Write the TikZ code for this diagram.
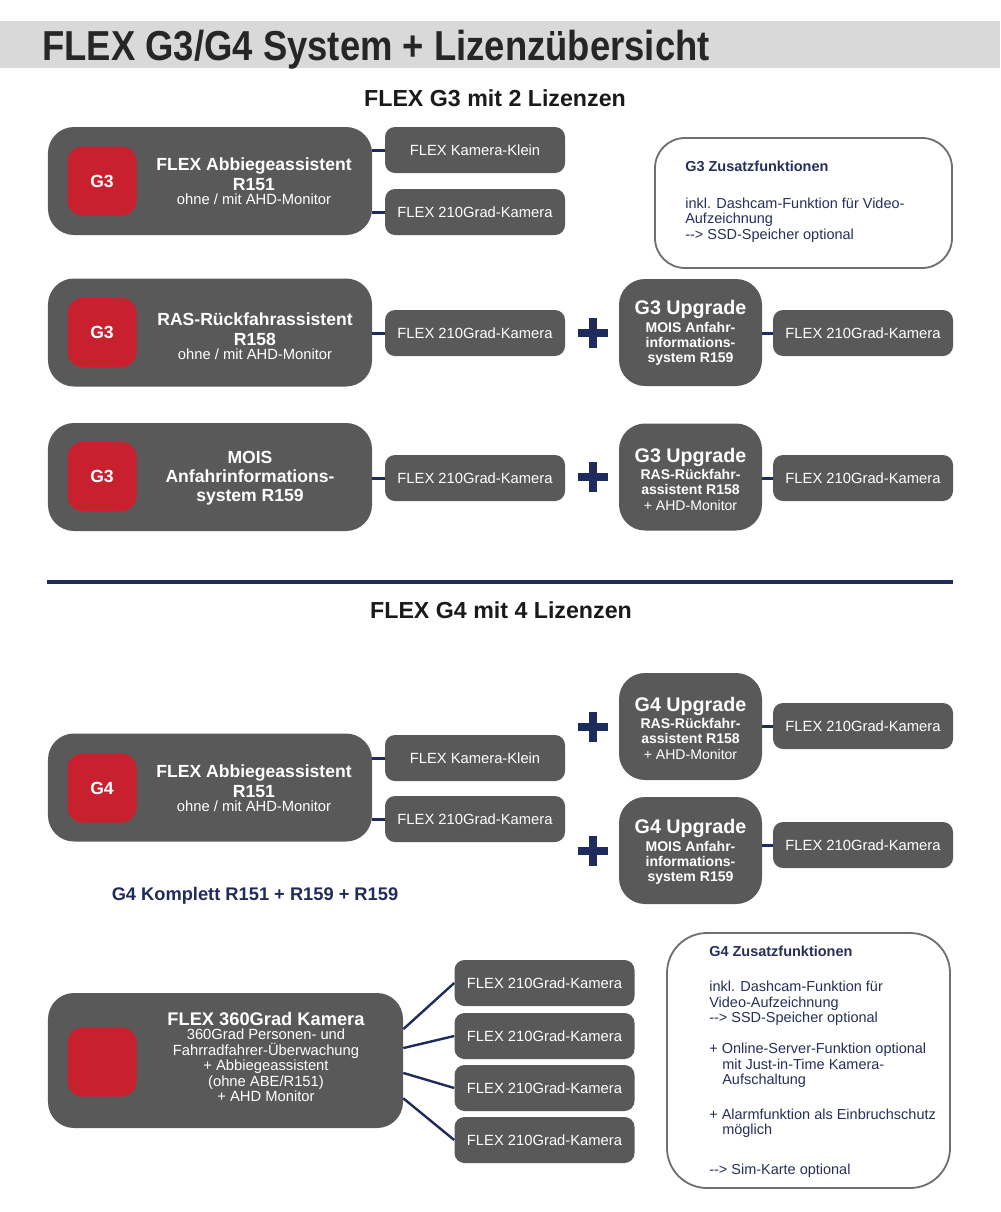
\documentclass[tikz,border=0pt]{standalone}
\usepackage{fontspec}
\setmainfont{Liberation Sans}
\usepackage{graphicx}
\usetikzlibrary{calc}

\begin{document}
\begin{tikzpicture}[x=0.25mm, y=-0.25mm,
    mainbox/.style={fill=boxGrey, rounded corners=6.5mm, minimum width=81mm, minimum height=27mm, inner sep=0pt},
    redbox/.style={fill=redFill, rounded corners=3.75mm, minimum size=17.25mm, inner sep=0pt, text=white, font=\fontsize{12.5}{13}\selectfont\bfseries},
    cambox/.style={fill=boxGrey, rounded corners=2.5mm, minimum width=45mm, minimum height=11.5mm, inner sep=0pt, text=white, font=\fontsize{10.5}{11}\selectfont},
    upgbox/.style={fill=boxGrey, rounded corners=6.5mm, minimum width=35.75mm, minimum height=26.75mm, inner sep=0pt},
    mainlabel/.style={text=white, align=center, inner sep=0pt, font=\fontsize{12.5}{14.2}\selectfont\bfseries},
    upglabel/.style={text=white, align=center, inner sep=0pt, font=\fontsize{10}{10.8}\selectfont\bfseries},
    infobox/.style={draw=frameGrey, line width=1.3pt, fill=white, inner sep=0pt},
    infotext/.style={text=navyText, align=left, inner sep=0pt, anchor=north west, font=\fontsize{10.3}{11}\selectfont},
    heading/.style={text=headInk, inner sep=0pt, font=\fontsize{16.5}{17}\selectfont\bfseries},
    link/.style={draw=navyLine, line width=0.75mm},
    plusSign/.style={draw=navyLine, line width=2mm}
]
    \definecolor{boxGrey}{HTML}{595959}
    \definecolor{redFill}{HTML}{C8202E}
    \definecolor{navyLine}{HTML}{1F2B5B}
    \definecolor{navyText}{HTML}{25305A}
    \definecolor{bandGrey}{HTML}{D9D9D9}
    \definecolor{frameGrey}{HTML}{6F6F6F}
    \definecolor{headInk}{HTML}{1A1A1A}
    \definecolor{titleInk}{HTML}{262626}

    \useasboundingbox (0,0) rectangle (1000,1212);

    % Title band
    \fill[bandGrey] (0,21) rectangle (1000,68);
    \node[anchor=base west, inner sep=0pt, text=titleInk] (title) at (42,60)
        {\scalebox{0.87}[1]{\fontsize{29.8}{30}\selectfont\bfseries FLEX G3/G4 System + Lizenzübersicht}};

    % ---------------- G3 ----------------
    \node[heading] (headG3) at (495,98) {FLEX G3 mit 2 Lizenzen};

    % Row 1: Abbiegeassistent
    \node[mainbox] (mainA) at (210,181) {};
    \node[redbox] (redA) at (102,181) {G3};
    \node[mainlabel] (labA) at (254,181) {FLEX Abbiegeassistent\\R151\\[-4pt]{\mdseries\fontsize{10.5}{11}\selectfont ohne / mit AHD-Monitor}};
    \node[cambox] (kleinA) at (475,150) {FLEX Kamera-Klein};
    \node[cambox] (camA) at (475,212) {FLEX 210Grad-Kamera};
    \draw[link] (mainA.east |- kleinA.west) -- (kleinA.west);
    \draw[link] (mainA.east |- camA.west) -- (camA.west);

    % G3 extras
    \node[infobox, rounded corners=7.5mm, minimum width=74.25mm, minimum height=32.5mm] (infoG3) at (803.5,203) {};
    \node[infotext] (infoG3txt) at (685,161)
        {{\bfseries G3 Zusatzfunktionen}\\[15pt]
         inkl. Dashcam-Funktion für Video-\\
         Aufzeichnung\\
         -{}-> SSD-Speicher optional};

    % Row 2: Rueckfahrassistent + MOIS upgrade
    \node[mainbox] (mainB) at (210,332.5) {};
    \node[redbox] (redB) at (102,332.5) {G3};
    \node[mainlabel] (labB) at (255,336) {RAS-Rückfahrassistent\\R158\\[-4pt]{\mdseries\fontsize{10.5}{11}\selectfont ohne / mit AHD-Monitor}};
    \node[cambox] (camB) at (475,333) {FLEX 210Grad-Kamera};
    \draw[link] (mainB.east |- camB.west) -- (camB.west);
    \node[upgbox] (upgB) at (690.5,332.5) {};
    \node[upglabel] (upgBtxt) at (690.5,333) {{\fontsize{14}{14}\selectfont G3 Upgrade}\\[1.8pt]MOIS Anfahr-\\informations-\\system R159};
    \node[cambox] (camBx) at (863,333) {FLEX 210Grad-Kamera};
    \draw[link] (upgB.east |- camBx.west) -- (camBx.west);

    % Row 3: MOIS + RAS upgrade
    \node[mainbox] (mainC) at (210,477) {};
    \node[redbox] (redC) at (102,476.5) {G3};
    \node[mainlabel, font=\fontsize{12.5}{13.4}\selectfont\bfseries] (labC) at (250,478) {MOIS\\Anfahrinformations-\\system R159};
    \node[cambox] (camC) at (475,478) {FLEX 210Grad-Kamera};
    \draw[link] (mainC.east |- camC.west) -- (camC.west);
    \node[upgbox] (upgC) at (690.5,477) {};
    \node[upglabel] (upgCtxt) at (690.5,479) {{\fontsize{14}{14}\selectfont G3 Upgrade}\\[1.8pt]RAS-Rückfahr-\\assistent R158\\{\mdseries + AHD-Monitor}};
    \node[cambox] (camCx) at (863,478) {FLEX 210Grad-Kamera};
    \draw[link] (upgC.east |- camCx.west) -- (camCx.west);

    % Divider
    \draw[navyLine, line width=0.8mm] (47,582) -- (953,582);

    % ---------------- G4 ----------------
    \node[heading] (headG4) at (501,610) {FLEX G4 mit 4 Lizenzen};

    \node[upgbox] (upgD) at (690.5,726.5) {};
    \node[upglabel] (upgDtxt) at (690.5,728) {{\fontsize{14}{14}\selectfont G4 Upgrade}\\[1.8pt]RAS-Rückfahr-\\assistent R158\\{\mdseries + AHD-Monitor}};
    \node[cambox] (camDx) at (863,726) {FLEX 210Grad-Kamera};
    \draw[link] (upgD.east |- camDx.west) -- (camDx.west);

    \node[upgbox] (upgE) at (690.5,850.5) {};
    \node[upglabel] (upgEtxt) at (690.5,852) {{\fontsize{14}{14}\selectfont G4 Upgrade}\\[1.8pt]MOIS Anfahr-\\informations-\\system R159};
    \node[cambox] (camEx) at (863,845) {FLEX 210Grad-Kamera};
    \draw[link] (upgE.east |- camEx.west) -- (camEx.west);

    \node[mainbox] (mainF) at (210,787.5) {};
    \node[redbox] (redF) at (102,788) {G4};
    \node[mainlabel] (labF) at (254,788) {FLEX Abbiegeassistent\\R151\\[-4pt]{\mdseries\fontsize{10.5}{11}\selectfont ohne / mit AHD-Monitor}};
    \node[cambox] (kleinF) at (475,758) {FLEX Kamera-Klein};
    \node[cambox] (camF) at (475,819) {FLEX 210Grad-Kamera};
    \draw[link] (mainF.east |- kleinF.west) -- (kleinF.west);
    \draw[link] (mainF.east |- camF.west) -- (camF.west);

    % Plus signs in front of the upgrades
    \foreach \u in {upgB,upgC,upgD,upgE} {
        \coordinate (plus\u) at ($(\u.west)+(-26,0)$);
        \draw[plusSign] ($(plus\u)+(-15,0)$) -- ++(30,0) ($(plus\u)+(0,-15)$) -- ++(0,30);
    }

    \node[text=navyLine, inner sep=0pt, font=\fontsize{13}{13}\selectfont\bfseries] (komplett) at (255,896) {G4 Komplett R151 + R159 + R159};

    % 360 camera with four cameras
    \node[mainbox, minimum width=88.75mm, minimum height=33.75mm] (mainG) at (225.5,1060.5) {};
    \node[redbox] (redG) at (102,1062) {};
    \node[text=white, align=center, inner sep=0pt, font=\fontsize{10.5}{11}\selectfont] (labG) at (266,1057)
        {{\bfseries\fontsize{13}{13}\selectfont FLEX 360Grad Kamera}\\[-1pt]
         360Grad Personen- und\\
         Fahrradfahrer-Überwachung\\
         + Abbiegeassistent\\
         (ohne ABE/R151)\\
         + AHD Monitor};
    \foreach \n/\y/\a in {1/983/10, 2/1036/4, 3/1088/-4, 4/1140/-12} {
        \node[cambox] (camG\n) at (544.5,\y) {FLEX 210Grad-Kamera};
        \draw[link, line width=0.6mm] (mainG.\a) -- (camG\n.west);
    }

    % G4 extras
    \node[infobox, rounded corners=10mm, minimum width=70.75mm, minimum height=63.75mm] (infoG4) at (808.5,1060.5) {};
    \node[infotext] (infoG4txt) at (709,946)
        {{\bfseries G4 Zusatzfunktionen}\\[14pt]
         inkl. Dashcam-Funktion für\\
         Video-Aufzeichnung\\
         -{}-> SSD-Speicher optional\\[11pt]
         + Online-Server-Funktion optional\\
         \hspace*{0.9em}mit Just-in-Time Kamera-\\
         \hspace*{0.9em}Aufschaltung\\[13.5pt]
         + Alarmfunktion als Einbruchschutz\\
         \hspace*{0.9em}möglich\\[17.5pt]
         -{}-> Sim-Karte optional};

\end{tikzpicture}
\end{document}
